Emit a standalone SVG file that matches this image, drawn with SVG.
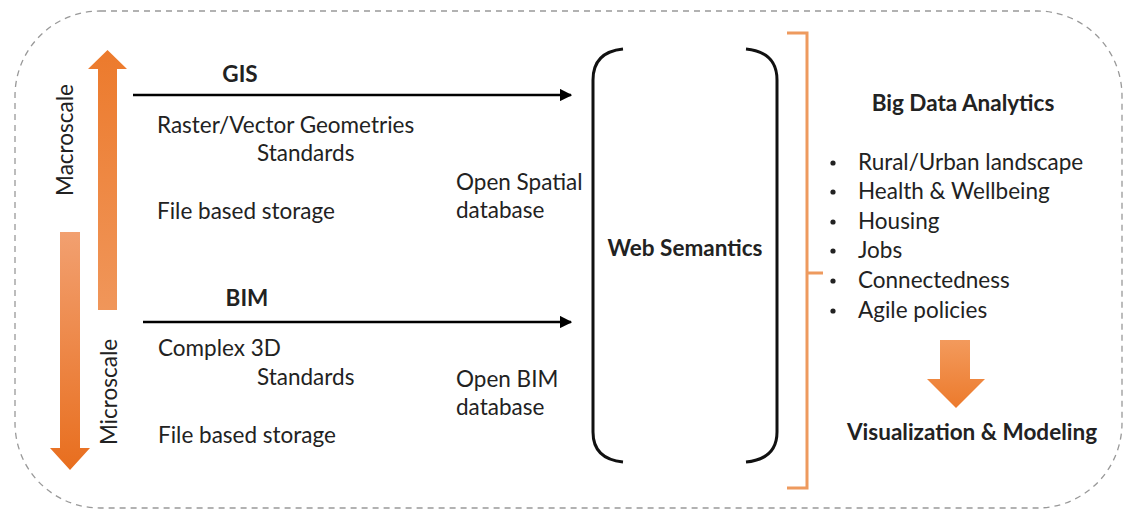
<svg xmlns="http://www.w3.org/2000/svg" width="1128" height="512" viewBox="0 0 1128 512">
<defs>
<style>
text{font-family:Lato,"Liberation Sans",sans-serif;fill:#222;font-size:22.5px}
.b{font-weight:bold}
.ln{stroke:#000;stroke-width:2.5;fill:none}
.br{stroke:#111;stroke-width:3;fill:none}
</style>
<linearGradient id="gUp" x1="0" y1="1" x2="0" y2="0"><stop offset="0" stop-color="#F0965A"/><stop offset="1" stop-color="#EC7A2C"/></linearGradient>
<linearGradient id="gDn" x1="0" y1="0" x2="0" y2="1"><stop offset="0" stop-color="#F2A070"/><stop offset="1" stop-color="#E86E1E"/></linearGradient>
<linearGradient id="gR" x1="0" y1="0" x2="0" y2="1"><stop offset="0" stop-color="#F39A5C"/><stop offset="1" stop-color="#EC7A2C"/></linearGradient>
<marker id="ah" viewBox="0 0 10 10" refX="9" refY="5" markerWidth="5" markerHeight="5" orient="auto" markerUnits="strokeWidth"><path d="M0,0 L10,5 L0,10 z" fill="#000"/></marker>
</defs>
<rect x="15" y="11" width="1107" height="497" rx="85" ry="85" fill="none" stroke="#999" stroke-width="1.3" stroke-dasharray="6,5"/>

<g id="macroscale">
<path d="M98,310 L98,69 L88,69 L107.5,50 L127,69 L117,69 L117,310 Z" fill="url(#gUp)"/>
<text transform="translate(73,140) rotate(-90)" text-anchor="middle">Macroscale</text>
</g>
<g id="microscale">
<path d="M60,232 L80,232 L80,448 L90,448 L70,470 L50,448 L60,448 Z" fill="url(#gDn)"/>
<text transform="translate(117,392) rotate(-90)" text-anchor="middle">Microscale</text>
</g>

<g id="gis">
<text class="b" x="240" y="82" text-anchor="middle">GIS</text>
<text x="157" y="133">Raster/Vector Geometries</text>
<text x="257" y="161">Standards</text>
<text x="157" y="219">File based storage</text>
</g>
<g id="bim">
<text class="b" x="247" y="306" text-anchor="middle">BIM</text>
<text x="158" y="356">Complex 3D</text>
<text x="257" y="385">Standards</text>
<text x="158" y="443">File based storage</text>
</g>
<g id="open-spatial">
<text x="456" y="190">Open Spatial</text>
<text x="456" y="218">database</text>
</g>
<g id="open-bim">
<text x="456" y="387">Open BIM</text>
<text x="456" y="415">database</text>
</g>

<g id="web-semantics">
<path class="br" d="M623,49 Q593,52 593,80 L593,432 Q593,459 623,462"/>
<path class="br" d="M746,49 Q777,52 777,80 L777,432 Q777,459 746,462"/>
<text class="b" x="685" y="256" text-anchor="middle">Web Semantics</text>
</g>

<g id="big-data">
<path d="M787,33 L807,33 L807,273 L823,273 M807,273 L807,488 L787,488" fill="none" stroke="#EE9A5E" stroke-width="3"/>
<text class="b" x="963" y="111" text-anchor="middle">Big Data Analytics</text>
<g>
<circle cx="833" cy="163" r="2.6" fill="#222"/><text x="858" y="170">Rural/Urban landscape</text>
<circle cx="833" cy="192" r="2.6" fill="#222"/><text x="858" y="199">Health &amp; Wellbeing</text>
<circle cx="833" cy="222" r="2.6" fill="#222"/><text x="858" y="229">Housing</text>
<circle cx="833" cy="251" r="2.6" fill="#222"/><text x="858" y="258">Jobs</text>
<circle cx="833" cy="281" r="2.6" fill="#222"/><text x="858" y="288">Connectedness</text>
<circle cx="833" cy="311" r="2.6" fill="#222"/><text x="858" y="318">Agile policies</text>
</g>
</g>

<g id="visualization">
<path d="M940,340 L970,340 L970,379 L985,379 L956,408 L927,379 L940,379 Z" fill="url(#gR)"/>
<text class="b" x="972" y="440" text-anchor="middle">Visualization &amp; Modeling</text>
</g>

<g id="connectors">
<line class="ln" x1="133" y1="95" x2="571" y2="95" marker-end="url(#ah)"/>
<line class="ln" x1="143" y1="322" x2="571" y2="322" marker-end="url(#ah)"/>
</g>
</svg>
